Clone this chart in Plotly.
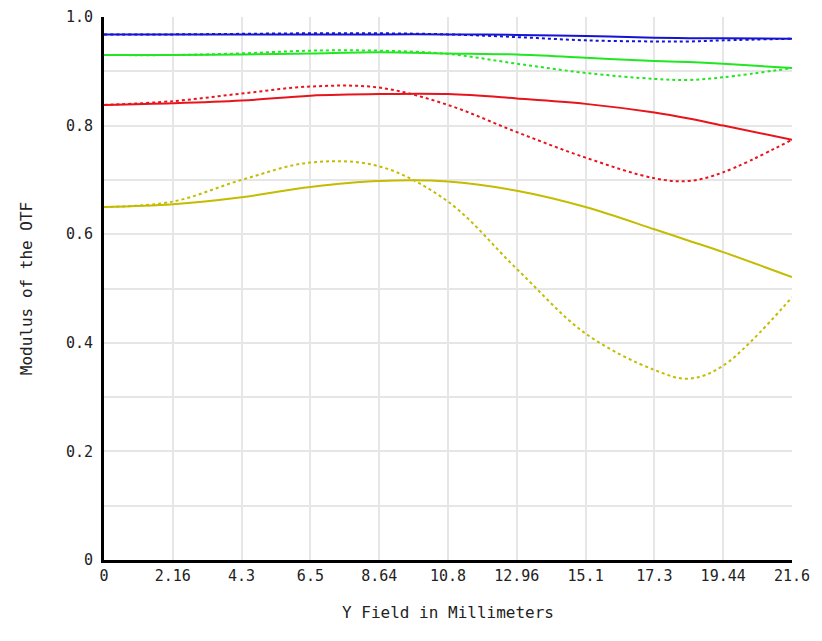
import plotly.graph_objects as go

field_mm = [0, 2.16, 4.32, 6.48, 8.64, 10.8, 12.96, 15.12, 17.28, 18.36, 19.44, 21.6]

# modulus of the OTF, solid = tangential, dotted = sagittal
blue_solid = [0.968, 0.968, 0.968, 0.968, 0.968, 0.968, 0.967, 0.965, 0.962, 0.961, 0.961, 0.960]
blue_dot = [0.968, 0.968, 0.969, 0.970, 0.970, 0.968, 0.963, 0.957, 0.955, 0.955, 0.957, 0.960]
green_solid = [0.930, 0.930, 0.931, 0.933, 0.935, 0.933, 0.931, 0.925, 0.919, 0.917, 0.914, 0.906]
green_dot = [0.930, 0.930, 0.933, 0.938, 0.938, 0.932, 0.914, 0.897, 0.886, 0.884, 0.889, 0.906]
red_solid = [0.838, 0.841, 0.846, 0.855, 0.858, 0.858, 0.850, 0.840, 0.824, 0.813, 0.800, 0.774]
red_dot = [0.838, 0.845, 0.859, 0.872, 0.870, 0.838, 0.788, 0.741, 0.703, 0.698, 0.714, 0.774]
yellow_solid = [0.650, 0.655, 0.668, 0.687, 0.698, 0.697, 0.680, 0.650, 0.609, 0.588, 0.567, 0.521]
yellow_dot = [0.650, 0.660, 0.700, 0.732, 0.725, 0.660, 0.536, 0.417, 0.350, 0.334, 0.358, 0.484]

x_tick_vals = [0, 2.16, 4.32, 6.48, 8.64, 10.8, 12.96, 15.12, 17.28, 19.44, 21.6]
x_tick_text = ["0", "2.16", "4.3", "6.5", "8.64", "10.8", "12.96", "15.1", "17.3", "19.44", "21.6"]
y_tick_vals = [0, 0.2, 0.4, 0.6, 0.8, 1.0]
y_tick_text = ["0", "0.2", "0.4", "0.6", "0.8", "1.0"]

series = [
    (yellow_dot, "#c4bc00", "dot"),
    (yellow_solid, "#c4bc00", "solid"),
    (red_dot, "#e8141c", "dot"),
    (red_solid, "#e8141c", "solid"),
    (green_dot, "#22e622", "dot"),
    (green_solid, "#22e622", "solid"),
    (blue_dot, "#1414d2", "dot"),
    (blue_solid, "#1414d2", "solid"),
]

fig = go.Figure()
for vals, color, dash in series:
    fig.add_trace(go.Scatter(
        x=field_mm, y=vals, mode="lines",
        line=dict(color=color, width=2, dash=dash, shape="spline", smoothing=1.0),
        showlegend=False,
    ))

mono = "DejaVu Sans Mono"
# page body adds ~8px offset, margins compensate for it
fig.update_layout(
    width=822, height=641,
    margin=dict(l=96, r=38, t=9, b=89),
    plot_bgcolor="white", paper_bgcolor="white",
    font=dict(family=mono, size=15, color="#222"),
)
fig.update_xaxes(
    range=[0, 21.6], tickvals=x_tick_vals, ticktext=x_tick_text,
    showgrid=True, gridcolor="#e6e6e6", gridwidth=2,
    showline=True, linecolor="black", linewidth=3,
    zeroline=False, ticks="", ticklen=0, automargin=False,
    title=dict(text="Y Field in Millimeters", font=dict(family=mono, size=16), standoff=23),
)
fig.update_yaxes(
    range=[0, 1.0], tickvals=y_tick_vals, ticktext=y_tick_text,
    showgrid=True, gridcolor="#e6e6e6", gridwidth=2,
    minor=dict(dtick=0.1, showgrid=True, gridcolor="#e6e6e6", gridwidth=2),
    showline=True, linecolor="black", linewidth=3,
    zeroline=False, ticks="", ticklen=0, automargin=False, ticklabelstandoff=5,
    title=dict(text="Modulus of the OTF", font=dict(family=mono, size=16), standoff=30),
)

fig.write_html("out.html")
